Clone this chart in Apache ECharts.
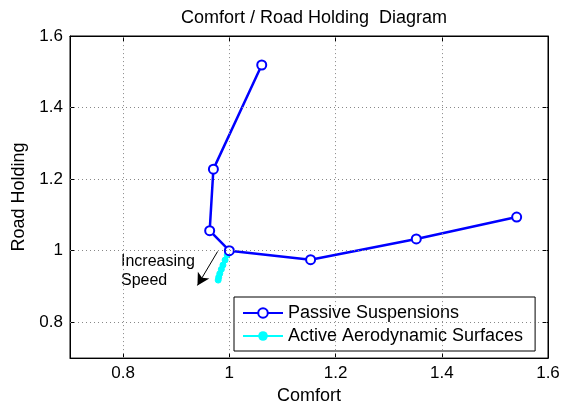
<!DOCTYPE html>
<html><head><meta charset="utf-8">
<script src="https://cdn.jsdelivr.net/npm/echarts@6/dist/echarts.min.js"></script>
<style>html,body{margin:0;padding:0;background:#fff}#c{width:574px;height:410px}</style>
</head><body><div id="c"></div>
<script>
const passiveComfort = [1.061, 0.970, 0.963, 1.000, 1.153, 1.352, 1.541];
const passiveHolding = [1.519, 1.228, 1.056, 1.000, 0.975, 1.033, 1.094];
const activeComfort = [1.000, 0.996, 0.992, 0.988, 0.985, 0.982, 0.980, 0.979];
const activeHolding = [1.000, 0.988, 0.974, 0.960, 0.948, 0.936, 0.926, 0.918];
const xRange = [0.7, 1.6];
const yRange = [0.7, 1.6];
const xTickValues = [0.8, 1.0, 1.2, 1.4, 1.6];
const yTickValues = [0.8, 1.0, 1.2, 1.4, 1.6];
const arrowStart = [0.978, 0.998];
const arrowEnd = [0.940, 0.903];
const font = 'Liberation Sans, Arial, sans-serif';

const chart = echarts.init(document.getElementById('c'), null, {renderer: 'canvas'});
const fmt = v => String(+(v.toFixed(1)));
const tickStyle = {show: true, inside: true, length: 5, lineStyle: {color: '#000', width: 1}};
function mkAxis(extra) {
  return Object.assign({
    type: 'value', interval: 0.1,
    axisLine: {show: true, onZero: false, lineStyle: {color: '#000', width: 1}},
    splitLine: {show: false},
    nameTextStyle: {color: '#000', fontSize: 18, fontFamily: font}
  }, extra);
}
const gridLineStyle = {color: '#888', type: [1, 3], width: 1};
chart.setOption({
  animation: false,
  backgroundColor: '#fff',
  title: {text: 'Comfort / Road Holding  Diagram', left: 309, textAlign: 'center', top: 4,
    textStyle: {fontSize: 18, fontWeight: 'normal', color: '#000', fontFamily: font}},
  grid: {left: 70, right: 26, top: 36, bottom: 50, show: true, borderColor: '#000', borderWidth: 1},
  xAxis: [
    mkAxis({min: xRange[0], max: xRange[1], position: 'bottom',
      name: 'Comfort', nameLocation: 'middle', nameGap: 27,
      axisTick: Object.assign({customValues: xTickValues}, tickStyle),
      axisLabel: {customValues: xTickValues, formatter: fmt, color: '#000', fontSize: 17, fontFamily: font, margin: 7}}),
    mkAxis({min: xRange[0], max: xRange[1], position: 'top',
      axisTick: Object.assign({customValues: xTickValues}, tickStyle),
      axisLabel: {show: false}})
  ],
  yAxis: [
    mkAxis({min: yRange[0], max: yRange[1], position: 'left',
      name: 'Road Holding', nameLocation: 'middle', nameGap: 36,
      axisTick: Object.assign({customValues: yTickValues}, tickStyle),
      axisLabel: {customValues: yTickValues, formatter: fmt, color: '#000', fontSize: 17, fontFamily: font, margin: 7}}),
    mkAxis({min: yRange[0], max: yRange[1], position: 'right',
      axisTick: Object.assign({customValues: yTickValues}, tickStyle),
      axisLabel: {show: false}})
  ],
  legend: {
    left: 234, top: 297, orient: 'vertical', backgroundColor: '#fff', borderColor: '#000', borderWidth: 1,
    padding: [7, 12, 6, 8], itemGap: 5, itemWidth: 40, itemHeight: 12,
    textStyle: {fontSize: 18, color: '#000', fontFamily: font},
    data: ['Passive Suspensions', 'Active Aerodynamic Surfaces']
  },
  graphic: [
    {type: 'text', left: 121, top: 252, style: {text: 'Increasing\nSpeed', font: '16px ' + font, fill: '#000', lineHeight: 19}}
  ],
  series: [
    {
      name: 'grid', type: 'line', data: [], silent: true, z: 0,
      markLine: {
        silent: true, symbol: 'none', label: {show: false}, lineStyle: gridLineStyle,
        data: xTickValues.filter(v => v < xRange[1]).map(v => ({xAxis: v}))
          .concat(yTickValues.filter(v => v < yRange[1]).map(v => ({yAxis: v})))
      }
    },
    {
      name: 'Passive Suspensions', type: 'line',
      data: passiveComfort.map((c, i) => [c, passiveHolding[i]]),
      symbol: 'circle', symbolSize: 9, showAllSymbol: true,
      lineStyle: {color: '#0000ff', width: 2.5},
      itemStyle: {color: '#fff', borderColor: '#0000ff', borderWidth: 2},
      z: 3
    },
    {
      name: 'Active Aerodynamic Surfaces', type: 'line',
      data: activeComfort.map((c, i) => [c, activeHolding[i]]),
      symbol: 'circle', symbolSize: 6, showAllSymbol: true,
      lineStyle: {color: '#00ffff', width: 2.5},
      itemStyle: {color: '#00ffff', borderColor: '#00ffff'},
      z: 2,
      markLine: {
        silent: true, symbol: ['none', 'arrow'], symbolSize: [10, 12],
        lineStyle: {color: '#000', width: 1, type: 'solid'}, label: {show: false},
        data: [[{coord: arrowStart}, {coord: arrowEnd}]]
      }
    }
  ]
});
</script></body></html>
